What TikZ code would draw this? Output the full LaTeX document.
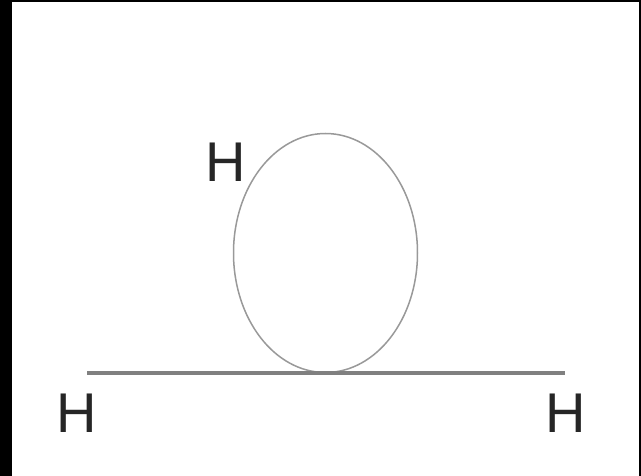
\documentclass[tikz,border=0pt]{standalone}
\usepackage{fontspec}
\setmainfont{Liberation Sans}
\usetikzlibrary{shapes.geometric}
\tikzset{
hlabel/.style={inner sep=0pt, font=\fontsize{56}{60}\selectfont, text=black!85},
loopline/.style={draw=black!40, line width=1.5pt},
propline/.style={draw=black!50, line width=3.5pt}}

\begin{document}
\begin{tikzpicture}[x=1pt,y=1pt,yscale=-1]
%set diagram size to 641 x 476
\useasboundingbox (0,0) rectangle (641,476);
\fill[white] (0,0) rectangle (641,476);
%Frame
\fill[black] (0,0) rectangle (12,476);
\fill[black] (0,0) rectangle (641,2);
\fill[black] (639,0) rectangle (641,476);

%Shape: Ellipse [id:loop]
\node (loop) [ellipse, loopline, minimum width=184, minimum height=239, inner sep=0pt] at (325.5,253) {};
%Straight Lines [id:prop]
\coordinate (propL) at (87,373);
\coordinate (propR) at (565,373);
\draw [propline] (propL) -- (propR) ;

% Text Node
\node (hleft) [hlabel] at (77,413) {H};
% Text Node
\node (hright) [hlabel] at (565.5,413) {H};
% Text Node
\node (htop) [hlabel] at (225.5,162) {H};

\end{tikzpicture}
\end{document}
